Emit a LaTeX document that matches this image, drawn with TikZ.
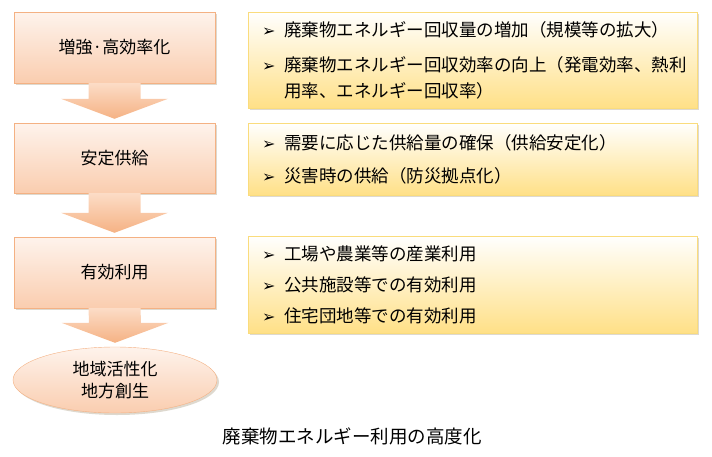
\documentclass[tikz,border=0pt]{standalone}
\usepackage{fontspec}
\setmainfont{Noto Sans CJK JP}
\newfontfamily\simbolo{DejaVu Sans}
\usetikzlibrary{positioning,calc,shapes.geometric,shadows}

\definecolor{pasoborde}{RGB}{244,177,131}
\definecolor{pasoarriba}{RGB}{254,243,236}
\definecolor{pasoabajo}{RGB}{250,205,175}
\definecolor{flechaarriba}{RGB}{252,220,198}
\definecolor{flechaabajo}{RGB}{245,178,132}
\definecolor{listaborde}{RGB}{250,220,125}
\definecolor{listaarriba}{RGB}{255,255,254}
\definecolor{listaabajo}{RGB}{255,224,135}
\definecolor{sombra}{RGB}{190,180,160}

\newcommand{\vin}{\makebox[22pt][l]{\simbolo\fontsize{16}{16}\selectfont ➢}}
\newcommand{\bajada}[2]{%
  \shade[flecha] ($(#1.south)+(-26,0)$) -- ($(#1.south)+(26,0)$)
    -- ($(#2.north)+(26,24)$) -- ($(#2.north)+(53.5,24)$)
    -- ($(#2.north)+(0,4)$) -- ($(#2.north)+(-53.5,24)$)
    -- ($(#2.north)+(-26,24)$) -- cycle;}

\tikzset{
  pasobox/.style={draw=pasoborde, top color=pasoarriba, bottom color=pasoabajo,
    minimum width=201pt, font=\fontsize{17}{20}\selectfont,
    drop shadow={shadow xshift=2pt, shadow yshift=-2pt, fill=sombra}},
  listabox/.style={draw=listaborde, top color=listaarriba, bottom color=listaabajo,
    text width=421pt, inner xsep=14pt, align=left, font=\fontsize{17.5}{26}\selectfont,
    drop shadow={shadow xshift=2pt, shadow yshift=-2pt, fill=sombra}},
  flecha/.style={top color=flechaarriba, bottom color=flechaabajo}
}

\begin{document}
\begin{tikzpicture}[x=1pt, y=1pt]
    \useasboundingbox (0,0) rectangle (712,-456);
    % Pasos
    \node[pasobox, minimum height=71pt] (incremento) at (114.5,-47.5) {増強·高効率化};
    \node[pasobox, minimum height=70pt] (suministro) at (114.5,-158) {安定供給};
    \node[pasobox, minimum height=71pt] (uso) at (114.5,-272.5) {有効利用};
    \node[pasobox, ellipse, minimum width=204pt, minimum height=66pt, align=center,
        font=\fontsize{17}{22}\selectfont] (region) at (115,-380) {地域活性化\\地方創生};
    % Flechas
    \bajada{incremento}{suministro}
    \bajada{suministro}{uso}
    \bajada{uso}{region}
    % Listas
    \node[listabox, minimum height=96pt] (listaA) at (472.5,-60)
        {\vin 廃棄物エネルギー回収量の増加（規模等の拡大）\\[9pt]
         \vin 廃棄物エネルギー回収効率の向上（発電効率、熱利\\
         \hspace*{22pt}用率、エネルギー回収率）};
    \node[listabox, minimum height=72pt] (listaB) at (472.5,-159)
        {\vin 需要に応じた供給量の確保（供給安定化）\\[7pt]
         \vin 災害時の供給（防災拠点化）};
    \node[listabox, minimum height=97pt] (listaC) at (472.5,-284.5)
        {\vin 工場や農業等の産業利用\\[5pt]
         \vin 公共施設等での有効利用\\[5pt]
         \vin 住宅団地等での有効利用};
    % Titulo
    \node[font=\fontsize{18.5}{20}\selectfont] (titulo) at (352,-436) {廃棄物エネルギー利用の高度化};
\end{tikzpicture}
\end{document}
